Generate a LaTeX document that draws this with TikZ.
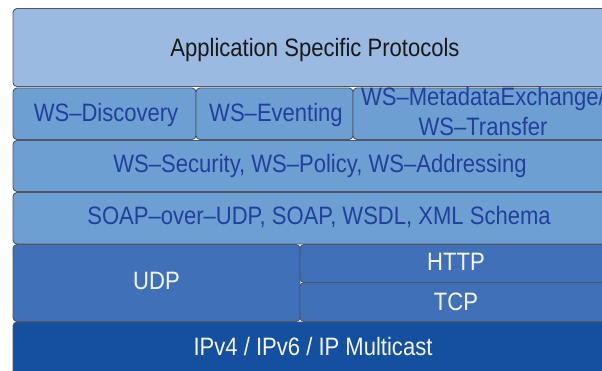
\documentclass[tikz,border=0pt]{standalone}
\usepackage{fontspec}
\setmainfont{Liberation Sans}
\definecolor{cTop}{HTML}{9BBAE1}
\definecolor{cMid}{HTML}{6E9FD3}
\definecolor{cLow}{HTML}{3F70B8}
\definecolor{cBase}{HTML}{144FA0}
\definecolor{cEdge}{HTML}{4C5666}
\definecolor{tBlue}{HTML}{22409A}
\definecolor{tWhite}{HTML}{F4F6FA}
\newcommand{\tallText}[1]{\scalebox{1.025}[1.17]{#1}}
\tikzset{
  layerbox/.style={draw=cEdge, line width=0.9pt, rounded corners=4pt},
  lbl/.style={inner sep=0pt, anchor=base, font=\fontsize{21.5}{25.6}\selectfont},
}
\begin{document}
\begin{tikzpicture}[x=1pt,y=-1pt]
\clip (0,0) rectangle (602,371);
\fill[white] (0,0) rectangle (602,371);
% boxes
\draw[layerbox, fill=cTop] (13,8.5) rectangle (640,86.5);
\draw[layerbox, fill=cMid] (13,88) rectangle (196,139.5);
\draw[layerbox, fill=cMid] (196,88) rectangle (353,139.5);
\draw[layerbox, fill=cMid] (353,88) rectangle (640,139.5);
\draw[layerbox, fill=cMid] (13,140.5) rectangle (640,191.5);
\draw[layerbox, fill=cMid] (13,192.5) rectangle (640,244);
\draw[layerbox, fill=cLow] (13,244.5) rectangle (300,321.5);
\draw[layerbox, fill=cLow] (300,244.5) rectangle (640,282.5);
\draw[layerbox, fill=cLow] (300,282.5) rectangle (640,321.5);
\draw[layerbox, fill=cBase] (13,322) rectangle (640,400);
% labels
\node[lbl, text=black!90] (asp) at (315,57) {\tallText{Application Specific Protocols}};
\node[lbl, text=tBlue] (disc) at (106,122) {\tallText{WS–Discovery}};
\node[lbl, text=tBlue] (evt) at (276,122) {\tallText{WS–Eventing}};
\node[lbl, text=tBlue] (mex) at (483,106) {\tallText{\begin{tabular}[t]{@{}c@{}}WS–MetadataExchange/\\WS–Transfer\end{tabular}}};
\node[lbl, text=tBlue] (sec) at (320,172.5) {\tallText{WS–Security, WS–Policy, WS–Addressing}};
\node[lbl, text=tBlue] (soap) at (319,225) {\tallText{SOAP–over–UDP, SOAP, WSDL, XML Schema}};
\node[lbl, text=tWhite] (udp) at (156.5,289.5) {\tallText{UDP}};
\node[lbl, text=tWhite] (http) at (456,270) {\tallText{HTTP}};
\node[lbl, text=tWhite] (tcp) at (456,310.5) {\tallText{TCP}};
\node[lbl, text=tWhite] (ip) at (313,355) {\tallText{IPv4 / IPv6 / IP Multicast}};
\end{tikzpicture}
\end{document}
